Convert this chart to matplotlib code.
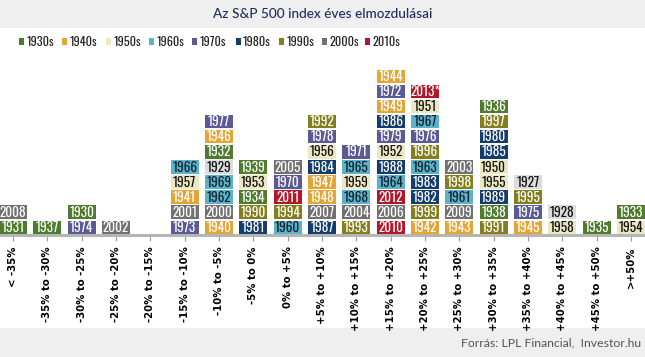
import matplotlib.pyplot as plt
from matplotlib.patches import Rectangle

# return bins of the S&P 500 (left to right)
bins = ["< -35%", "-35% to -30%", "-30% to -25%", "-25% to -20%", "-20% to -15%",
        "-15% to -10%", "-10% to -5%", "-5% to 0%", "0% to +5%", "+5% to +10%",
        "+10% to +15%", "+15% to +20%", "+20% to +25%", "+25% to +30%",
        "+30% to +35%", "+35% to +40%", "+40% to +45%", "+45% to +50%", ">+50%"]

# years stacked in each bin, bottom to top
years = [
    ["1931", "2008"],
    ["1937"],
    ["1974", "1930"],
    ["2002"],
    [],
    ["1973", "2001", "1941", "1957", "1966"],
    ["1940", "2000", "1962", "1969", "1929", "1932", "1946", "1977"],
    ["1981", "1990", "1934", "1953", "1939"],
    ["1960", "1994", "2011", "1970", "2005"],
    ["1987", "2007", "1948", "1947", "1984", "1956", "1978", "1992"],
    ["1993", "2004", "1968", "1959", "1965", "1971"],
    ["2010", "2006", "2012", "1964", "1988", "1952", "1979", "1986", "1949", "1972", "1944"],
    ["1942", "1999", "1982", "1983", "1963", "1996", "1976", "1967", "1951", "2013*"],
    ["1943", "2009", "1961", "1998", "2003"],
    ["1991", "1938", "1989", "1955", "1950", "1985", "1980", "1997", "1936"],
    ["1945", "1975", "1995", "1927"],
    ["1958", "1928"],
    ["1935"],
    ["1954", "1933"],
]

decades = ["1930s", "1940s", "1950s", "1960s", "1970s", "1980s", "1990s", "2000s", "2010s"]

# decade -> (fill, text colour); 1920s only appears in the boxes, not the legend
palette = {
    "1920s": ("#dcdcdc", "#111111"),
    "1930s": ("#4e7b2c", "white"),
    "1940s": ("#e3a535", "white"),
    "1950s": ("#ece7c3", "#111111"),
    "1960s": ("#5bb3cb", "#10202a"),
    "1970s": ("#5b5a94", "white"),
    "1980s": ("#143c6c", "white"),
    "1990s": ("#847e1c", "white"),
    "2000s": ("#717171", "white"),
    "2010s": ("#b0172a", "white"),
}

W, H = 645, 357
box_font = ["Oswald", "Roboto Condensed", "DejaVu Sans"]

fig = plt.figure(figsize=(W / 100, H / 100), dpi=100)
fig.patch.set_facecolor("white")

# grey header and footer bands
fig.patches.append(Rectangle((0, 1 - 28 / H), 1, 28 / H, transform=fig.transFigure,
                             facecolor="#efefef", edgecolor="none", zorder=-1))
fig.patches.append(Rectangle((0, 0), 1, 29 / H, transform=fig.transFigure,
                             facecolor="#efefef", edgecolor="none", zorder=-1))

fig.text(323 / W, 1 - 14 / H, "Az S&P 500 index éves elmozdulásai", ha="center", va="center",
         fontsize=9.8, color="#1f2d5c", family="Lato", fontweight="medium")
fig.text(641 / W, 1 - 343 / H, "Forrás: LPL Financial,  Investor.hu", ha="right", va="center",
         fontsize=8.8, color="#555555", family="Lato")

# legend
for i, dec in enumerate(decades):
    x0 = 19 + 43.3 * i
    fig.patches.append(Rectangle((x0 / W, 1 - 45 / H), 5 / W, 7 / H, transform=fig.transFigure,
                                 facecolor=palette[dec][0], edgecolor="none"))
    fig.text((x0 + 7.5) / W, 1 - 41.5 / H, dec, ha="left", va="center", fontsize=8.8,
             color="#222222", family=box_font)

pitch = 15.1
ax = fig.add_axes([0, 122 / H, 1, 180 / H])
ax.set_xlim(-13 / 34.33, (W - 13) / 34.33)
ax.set_ylim(0, 180 / pitch)
ax.set_facecolor("none")

for xi, col in enumerate(years):
    for yi, yr in enumerate(col):
        dec = yr[:3] + "0s"
        fill, tc = palette[dec]
        ax.add_patch(Rectangle((xi - 0.41, yi + 0.06), 0.82, 0.9, facecolor=fill,
                               edgecolor="none"))
        ax.text(xi, yi + 0.5, yr, ha="center", va="center", fontsize=9.6,
                color=tc, family=box_font, fontweight="bold")

for s in ax.spines.values():
    s.set_visible(False)
ax.axhline(0, color="#b5b5b5", lw=2.2, clip_on=False)
ax.set_yticks([])
ax.set_xticks(range(len(bins)))
ax.set_xticklabels(bins, rotation=90, fontsize=7.3, fontweight="bold", family="DejaVu Sans")
ax.tick_params(axis="x", length=4, width=0.8, color="#999999", pad=4)

fig.savefig("out.png", dpi=100)
